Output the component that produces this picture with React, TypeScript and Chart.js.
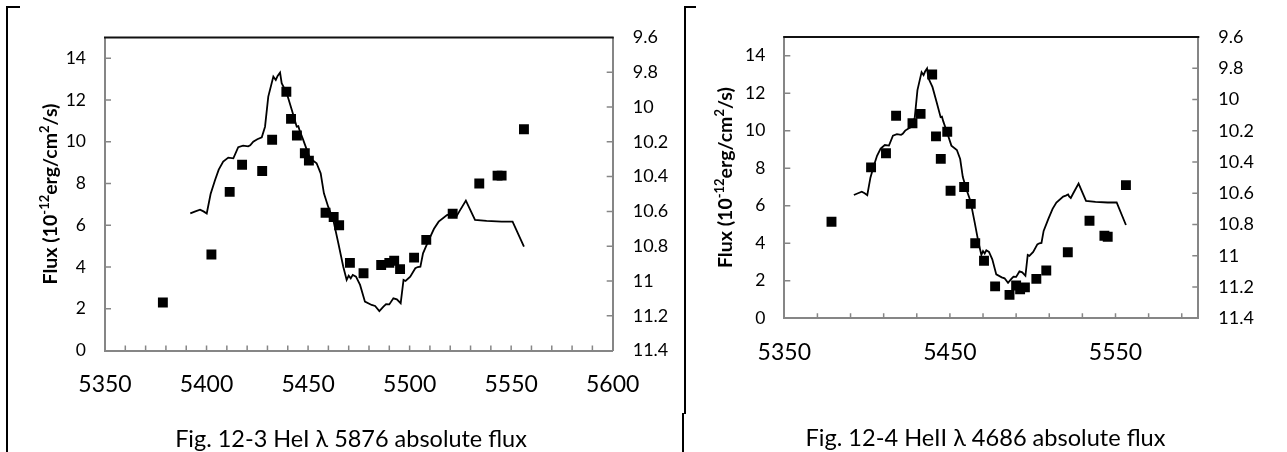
import React, { useEffect, useRef } from "react";
import { Chart, registerables } from "chart.js";

Chart.register(...registerables);

// ---------- data ----------
// x positions of the observed points (shared by both figures)
const obsX = [
  5378.5, 5402.4, 5411.4, 5417.5, 5427.4, 5432.3, 5439.3, 5441.6, 5444.5, 5448.4,
  5450.4, 5458.6, 5462.6, 5465.3, 5470.6, 5477.3, 5486.0, 5490.0, 5492.4, 5495.3,
  5502.2, 5508.2, 5521.2, 5534.3, 5543.3, 5545.3, 5556.3,
];
// Fig. 12-3 HeI 5876 flux (left axis)
const heIFlux = [
  2.3, 4.6, 7.6, 8.9, 8.6, 10.1, 12.4, 11.1, 10.3, 9.45,
  9.1, 6.6, 6.4, 6.0, 4.2, 3.7, 4.1, 4.2, 4.3, 3.9,
  4.45, 5.3, 6.55, 8.0, 8.38, 8.38, 10.6,
];
// Fig. 12-4 HeII 4686 flux (left axis)
const heIIFlux = [
  5.15, 8.05, 8.8, 10.8, 10.4, 10.9, 13.0, 9.7, 8.5, 9.95,
  6.8, 7.0, 6.1, 4.0, 3.07, 1.7, 1.25, 1.75, 1.55, 1.65,
  2.1, 2.55, 3.52, 5.2, 4.4, 4.35, 7.1,
];
// light curve (right, inverted axis)
const curveX = [
  5392.0, 5394.5, 5396.8, 5398.5, 5400.1, 5402.0, 5404.2, 5406.0, 5408.2, 5410.7,
  5413.2, 5415.6, 5418.0, 5420.5, 5421.5, 5423.0, 5425.0, 5427.2, 5428.8, 5430.4,
  5432.9, 5434.1, 5435.0, 5436.2, 5437.0, 5439.5, 5442.0, 5444.4, 5445.2, 5446.0,
  5447.6, 5450.9, 5454.2, 5456.2, 5457.8, 5459.9, 5462.4, 5464.9, 5467.3, 5469.0,
  5470.0, 5471.0, 5472.0, 5473.6, 5475.6, 5478.0, 5481.3, 5483.0, 5485.1, 5487.1,
  5488.4, 5490.0, 5492.0, 5493.7, 5495.6, 5497.0, 5498.0, 5500.3, 5502.8, 5504.0,
  5505.3, 5506.6, 5509.4, 5512.0, 5514.3, 5518.4, 5520.0, 5521.4, 5522.0, 5523.0,
  5524.5, 5527.7, 5532.2, 5537.9, 5545.3, 5550.7, 5556.3,
];
const curveMag = [
  10.611, 10.600, 10.590, 10.600, 10.612, 10.500, 10.419, 10.360, 10.314, 10.291,
  10.295, 10.231, 10.222, 10.226, 10.220, 10.199, 10.185, 10.174, 10.113, 9.940,
  9.825, 9.844, 9.821, 9.802, 9.863, 9.921, 10.017, 10.113, 10.110, 10.140,
  10.189, 10.295, 10.323, 10.381, 10.496, 10.573, 10.649, 10.783, 10.917, 10.994,
  10.970, 10.985, 10.965, 10.975, 11.023, 11.119, 11.138, 11.144, 11.173, 11.148,
  11.133, 11.135, 11.100, 11.106, 11.128, 10.994, 11.000, 10.975, 10.927, 10.920,
  10.918, 10.841, 10.765, 10.700, 10.659, 10.621, 10.615, 10.608, 10.620, 10.630,
  10.600, 10.538, 10.649, 10.655, 10.659, 10.659, 10.803,
];

const fluxTicks = [0, 2, 4, 6, 8, 10, 12, 14];
const magTicks = [9.6, 9.8, 10, 10.2, 10.4, 10.6, 10.8, 11, 11.2, 11.4];
const leftXTicks = [5350, 5400, 5450, 5500, 5550, 5600];
const rightXTicks = [5350, 5450, 5550];
const captions = [
  "Fig. 12-3 HeI \u03bb 5876 absolute flux",
  "Fig. 12-4 HeII \u03bb 4686 absolute flux",
];
const titleParts = [
  { t: "Flux (10", sup: false },
  { t: "-12", sup: true },
  { t: "erg/cm", sup: false },
  { t: "2", sup: true },
  { t: "/s)", sup: false },
];

// ---------- styling ----------
const FONT = "Lato, 'Open Sans', sans-serif";
const AXIS = "#868686";
const X_MIN = 5350;
const X_MAX = 5600;
const TITLE_LENGTH = 181;

type Panel = {
  flux: number[];
  caption: string;
  xTicks: number[];
  minorStep: number;
  left: number;
  width: number;
  height: number;
  plot: { left: number; right: number; top: number; bottom: number };
  titleX: number;
  captionX: number;
  captionY: number;
  captionWidth: number;
};

const panels: Panel[] = [
  {
    flux: heIFlux,
    caption: captions[0],
    xTicks: leftXTicks,
    minorStep: 10,
    left: 0,
    width: 684,
    height: 452,
    plot: { left: 105, right: 612.7, top: 37.5, bottom: 350.5 },
    titleX: 50,
    captionX: 351,
    captionY: 446.5,
    captionWidth: 352,
  },
  {
    flux: heIIFlux,
    caption: captions[1],
    xTicks: rightXTicks,
    minorStep: 20,
    left: 684,
    width: 603,
    height: 452,
    plot: { left: 100.3, right: 514.3, top: 37, bottom: 318.3 },
    titleX: 41,
    captionX: 301.5,
    captionY: 446,
    captionWidth: 360,
  },
];

function makeDecor(p: Panel) {
  return {
    id: "decor",
    afterDraw(chart: any) {
      const { ctx, chartArea: a, scales } = chart;
      const sx = scales.x;
      const sy = scales.y;
      const sy2 = scales.y2;
      ctx.save();
      // inside tick marks
      ctx.strokeStyle = AXIS;
      ctx.lineWidth = 1.5;
      ctx.beginPath();
      for (let v = X_MIN + p.minorStep; v < X_MAX - 1e-6; v += p.minorStep) {
        const px = sx.getPixelForValue(v);
        ctx.moveTo(px, a.bottom);
        ctx.lineTo(px, a.bottom - 5);
      }
      fluxTicks.forEach((v) => {
        if (v === 0) return;
        const py = sy.getPixelForValue(v);
        ctx.moveTo(a.left, py);
        ctx.lineTo(a.left + 6, py);
      });
      magTicks.forEach((v, i) => {
        if (i === 0 || i === magTicks.length - 1) return;
        const py = sy2.getPixelForValue(v);
        ctx.moveTo(a.right, py);
        ctx.lineTo(a.right - 6, py);
      });
      ctx.stroke();
      // top frame line
      ctx.strokeStyle = "#111";
      ctx.lineWidth = 2;
      ctx.beginPath();
      ctx.moveTo(a.left - 1, a.top);
      ctx.lineTo(a.right + 1, a.top);
      ctx.stroke();
      // rotated y-axis title with superscripts, sized to the reference length
      const measure = (bigSize: number) => {
        let tot = 0;
        const ws = titleParts.map((s) => {
          ctx.font = `bold ${s.sup ? bigSize * 0.66 : bigSize}px ${FONT}`;
          const w = ctx.measureText(s.t).width;
          tot += w;
          return w;
        });
        return { tot, ws };
      };
      const first = measure(20);
      const big = (20 * TITLE_LENGTH) / first.tot;
      const small = big * 0.66;
      const { tot: total, ws: widths } = measure(big);
      ctx.fillStyle = "#000";
      ctx.textBaseline = "alphabetic";
      ctx.textAlign = "left";
      ctx.translate(p.titleX, (a.top + a.bottom) / 2);
      ctx.rotate(-Math.PI / 2);
      let cx = -total / 2;
      const base = big * 0.36;
      titleParts.forEach((s, i) => {
        ctx.font = `bold ${s.sup ? small : big}px ${FONT}`;
        ctx.fillText(s.t, cx, s.sup ? base - big * 0.4 : base);
        cx += widths[i];
      });
      ctx.setTransform(1, 0, 0, 1, 0, 0);
      // caption, sized to the reference width
      ctx.font = `24px ${FONT}`;
      const cw = ctx.measureText(p.caption).width;
      const capSize = (24 * p.captionWidth) / cw;
      ctx.font = `${capSize}px ${FONT}`;
      ctx.textAlign = "center";
      ctx.textBaseline = "alphabetic";
      ctx.fillText(p.caption, p.captionX, p.captionY);
      ctx.restore();
    },
  };
}

function makeConfig(p: Panel): any {
  const fixTicks = (vals: number[]) => (scale: any) => {
    scale.ticks = vals.map((v) => ({ value: v }));
  };
  return {
    type: "scatter",
    data: {
      datasets: [
        {
          data: obsX.map((x, i) => ({ x, y: p.flux[i] })),
          yAxisID: "y",
          pointStyle: "rect",
          pointRadius: 7,
          pointHoverRadius: 7,
          backgroundColor: "#000",
          borderColor: "#000",
          borderWidth: 0,
          showLine: false,
        },
        {
          data: curveX.map((x, i) => ({ x, y: curveMag[i] })),
          yAxisID: "y2",
          showLine: true,
          borderColor: "#000",
          borderWidth: 1.8,
          pointRadius: 0,
          tension: 0,
          fill: false,
        },
      ],
    },
    options: {
      responsive: false,
      animation: false,
      devicePixelRatio: 1,
      events: [],
      layout: { padding: { top: p.plot.top, left: 0, right: 0, bottom: 0 } },
      plugins: { legend: { display: false }, tooltip: { enabled: false }, title: { display: false } },
      scales: {
        x: {
          type: "linear",
          position: "bottom",
          min: X_MIN,
          max: X_MAX,
          afterBuildTicks: fixTicks(p.xTicks),
          afterFit: (s: any) => {
            s.height = p.height - p.plot.bottom;
          },
          grid: { display: true, drawOnChartArea: false, drawTicks: false },
          border: { display: true, color: AXIS, width: 2 },
          ticks: {
            autoSkip: false,
            maxRotation: 0,
            padding: 20,
            color: "#000",
            font: { family: FONT, size: 23 },
            callback: (v: number) => String(v),
          },
        },
        y: {
          type: "linear",
          position: "left",
          min: 0,
          max: 15,
          afterBuildTicks: fixTicks(fluxTicks),
          afterFit: (s: any) => {
            s.width = p.plot.left;
          },
          grid: { display: true, drawOnChartArea: false, drawTicks: false },
          border: { display: true, color: AXIS, width: 2 },
          ticks: {
            autoSkip: false,
            padding: 19,
            color: "#000",
            font: { family: FONT, size: 17.5 },
            callback: (v: number) => String(v),
          },
        },
        y2: {
          type: "linear",
          position: "right",
          reverse: true,
          min: 9.6,
          max: 11.4,
          afterBuildTicks: fixTicks(magTicks),
          afterFit: (s: any) => {
            s.width = p.width - p.plot.right;
          },
          grid: { display: true, drawOnChartArea: false, drawTicks: false },
          border: { display: true, color: AXIS, width: 2 },
          ticks: {
            autoSkip: false,
            padding: 20,
            color: "#000",
            font: { family: FONT, size: 18 },
            callback: (v: number) => String(Math.round(v * 10) / 10),
          },
        },
      },
    },
    plugins: [makeDecor(p)],
  };
}

function PanelChart({ p }: { p: Panel }) {
  const ref = useRef<HTMLCanvasElement | null>(null);
  useEffect(() => {
    if (!ref.current) return;
    const chart = new Chart(ref.current, makeConfig(p));
    return () => chart.destroy();
  }, [p]);
  return (
    <canvas
      ref={ref}
      width={p.width}
      height={p.height}
      style={{ position: "absolute", left: p.left, top: 0, width: p.width, height: p.height }}
    />
  );
}

const line = (left: number, top: number, width: number, height: number) => (
  <div style={{ position: "absolute", left, top, width, height, background: "#000" }} />
);

export default function App() {
  return (
    <div
      style={{
        position: "absolute",
        left: 0,
        top: 0,
        width: 1287,
        height: 452,
        background: "#fff",
        overflow: "hidden",
      }}
    >
      {panels.map((p, i) => (
        <PanelChart key={i} p={p} />
      ))}
      {line(6, 6, 2, 446)}
      {line(6, 6, 14, 2)}
      {line(684, 6, 2, 408)}
      {line(682, 413, 2, 39)}
      {line(684, 6, 12, 2)}
    </div>
  );
}
